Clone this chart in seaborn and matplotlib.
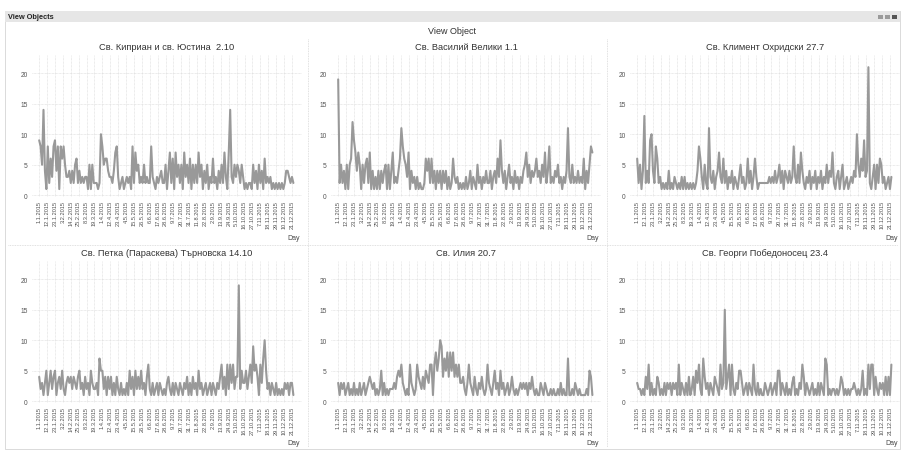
import numpy as np
import pandas as pd
import matplotlib
matplotlib.use("Agg")
import matplotlib.pyplot as plt
from matplotlib.patches import Rectangle
from matplotlib.lines import Line2D
import seaborn as sns

# ---------------- data ----------------
tick_labels = ["1.1.2015", "12.1.2015", "23.1.2015", "3.2.2015", "14.2.2015", "25.2.2015",
               "8.3.2015", "19.3.2015", "1.4.2015", "12.4.2015", "23.4.2015", "4.5.2015",
               "15.5.2015", "26.5.2015", "6.6.2015", "17.6.2015", "28.6.2015", "9.7.2015",
               "20.7.2015", "31.7.2015", "11.8.2015", "22.8.2015", "2.9.2015", "13.9.2015",
               "24.9.2015", "5.10.2015", "16.10.2015", "27.10.2015", "7.11.2015", "18.11.2015",
               "29.11.2015", "10.12.2015", "21.12.2015"]

titles = ["Св. Киприан и св. Юстина  2.10", "Св. Василий Велики 1.1", "Св. Климент Охридски 27.7",
          "Св. Петка (Параскева) Търновска 14.10", "Св. Илия 20.7", "Св. Георги Победоносец 23.4"]

kiprian = [9, 8, 5, 14, 4, 1, 8, 2, 6, 3, 8, 9, 4, 8, 1, 8, 6, 8, 5, 3, 3, 4,
           2, 4, 2, 5, 6, 2, 4, 2, 3, 2, 3, 3, 1, 5, 1, 5, 2, 2, 2, 1, 2, 10,
           8, 5, 6, 6, 4, 3, 3, 2, 4, 7, 8, 3, 1, 2, 3, 1, 2, 3, 2, 3, 1, 8,
           2, 7, 4, 5, 2, 3, 2, 5, 2, 3, 2, 2, 8, 3, 2, 1, 3, 2, 3, 4, 2, 2,
           5, 1, 4, 7, 2, 6, 1, 7, 3, 5, 2, 5, 1, 7, 3, 5, 2, 6, 1, 5, 2, 5,
           2, 7, 3, 5, 1, 4, 2, 5, 1, 3, 2, 6, 2, 3, 1, 4, 2, 5, 2, 7, 3, 1,
           7, 14, 3, 2, 5, 3, 5, 4, 2, 5, 3, 1, 2, 1, 2, 2, 1, 5, 2, 4, 1, 5,
           2, 4, 1, 6, 2, 3, 2, 3, 1, 2, 1, 2, 1, 2, 1, 2, 1, 2, 4, 4, 3, 2,
           3, 2]

vasiliy = [19, 2, 5, 2, 4, 1, 5, 1, 5, 6, 12, 9, 7, 4, 7, 5, 1, 5, 2, 5, 6, 2,
           7, 1, 4, 1, 3, 1, 4, 1, 4, 2, 4, 5, 1, 5, 1, 4, 7, 2, 3, 2, 4, 6,
           11, 8, 6, 5, 3, 7, 1, 4, 2, 3, 1, 3, 1, 2, 1, 1, 2, 6, 4, 6, 2, 6,
           2, 4, 1, 4, 2, 4, 1, 4, 2, 4, 1, 3, 1, 2, 6, 3, 2, 3, 1, 2, 1, 2,
           1, 3, 1, 2, 4, 1, 3, 2, 1, 5, 2, 3, 1, 3, 2, 4, 2, 2, 4, 1, 3, 4,
           2, 6, 3, 9, 4, 2, 4, 1, 3, 5, 2, 3, 1, 4, 2, 3, 1, 3, 2, 4, 5, 7,
           3, 5, 2, 4, 3, 4, 6, 3, 4, 2, 5, 3, 7, 2, 4, 8, 2, 3, 2, 4, 3, 5,
           2, 3, 1, 3, 2, 4, 11, 3, 2, 5, 2, 3, 2, 4, 2, 3, 2, 6, 1, 4, 2, 5,
           8, 7]

kliment = [6, 2, 5, 1, 4, 13, 2, 4, 2, 9, 10, 4, 2, 8, 6, 2, 3, 1, 2, 1, 2, 1,
           4, 1, 2, 1, 3, 2, 1, 2, 1, 3, 1, 3, 1, 2, 1, 2, 1, 2, 1, 2, 4, 8,
           6, 3, 1, 5, 2, 1, 11, 3, 2, 4, 1, 3, 4, 7, 3, 2, 6, 2, 4, 1, 3, 2,
           4, 1, 3, 2, 1, 3, 5, 2, 3, 1, 2, 6, 2, 4, 1, 3, 6, 3, 1, 2, 2, 2,
           2, 2, 2, 2, 3, 2, 3, 2, 4, 2, 3, 5, 2, 4, 1, 4, 3, 2, 4, 2, 3, 8,
           3, 2, 5, 2, 7, 4, 2, 1, 3, 2, 4, 1, 3, 2, 4, 1, 3, 2, 4, 1, 3, 2,
           5, 2, 4, 3, 7, 2, 1, 3, 4, 1, 3, 5, 1, 2, 3, 1, 2, 3, 2, 4, 3, 10,
           5, 3, 6, 4, 9, 3, 4, 21, 2, 1, 3, 5, 1, 5, 2, 6, 5, 2, 3, 1, 2, 3,
           1, 3]

petka = [4, 2, 3, 1, 3, 5, 1, 3, 5, 2, 4, 5, 1, 3, 4, 2, 5, 2, 1, 3, 4, 3,
         4, 2, 4, 3, 2, 4, 5, 2, 3, 1, 4, 2, 3, 1, 5, 3, 2, 2, 3, 1, 7, 5,
         5, 2, 4, 1, 4, 2, 4, 1, 3, 1, 4, 2, 1, 3, 1, 2, 1, 3, 1, 5, 2, 4,
         1, 5, 2, 4, 2, 5, 2, 3, 1, 4, 6, 2, 1, 3, 1, 2, 3, 1, 3, 2, 1, 2,
         1, 3, 4, 2, 1, 3, 1, 3, 2, 1, 3, 2, 1, 3, 2, 4, 1, 3, 1, 4, 2, 3,
         1, 5, 2, 3, 1, 2, 3, 1, 2, 3, 1, 3, 2, 1, 3, 2, 4, 6, 2, 4, 1, 6,
         2, 6, 3, 6, 2, 4, 4, 19, 2, 5, 3, 3, 5, 2, 4, 6, 3, 9, 5, 6, 4, 1,
         6, 3, 7, 10, 5, 2, 3, 1, 3, 2, 1, 3, 1, 2, 1, 2, 1, 3, 2, 3, 1, 3,
         3, 1]

iliya = [3, 1, 3, 2, 3, 1, 2, 3, 1, 2, 1, 3, 1, 2, 1, 3, 1, 2, 3, 1, 2, 3,
         4, 3, 2, 3, 1, 2, 1, 2, 5, 1, 3, 1, 2, 1, 2, 2, 2, 3, 2, 4, 5, 4,
         6, 3, 2, 1, 2, 1, 6, 3, 2, 1, 2, 6, 4, 3, 2, 4, 2, 5, 4, 3, 6, 6,
         1, 6, 8, 5, 7, 10, 9, 4, 7, 5, 8, 4, 8, 5, 8, 4, 6, 4, 6, 3, 3, 4,
         2, 1, 3, 6, 3, 2, 1, 4, 2, 1, 3, 2, 4, 2, 1, 2, 6, 3, 2, 1, 3, 5,
         2, 3, 1, 5, 2, 3, 1, 2, 3, 1, 2, 4, 2, 1, 2, 1, 2, 3, 2, 3, 2, 3,
         1, 3, 2, 4, 2, 1, 2, 1, 1, 3, 2, 1, 3, 2, 1, 1, 2, 1, 2, 1, 1, 2,
         1, 3, 1, 2, 1, 1, 7, 1, 1, 2, 1, 3, 2, 1, 2, 1, 1, 1, 1, 2, 1, 5,
         4, 1]

georgi = [3, 2, 2, 1, 2, 1, 4, 2, 6, 1, 3, 1, 2, 1, 4, 3, 1, 2, 1, 3, 1, 3,
          2, 3, 1, 3, 2, 3, 1, 6, 1, 3, 2, 1, 3, 1, 4, 1, 2, 4, 1, 5, 3, 6,
          2, 1, 7, 4, 2, 3, 1, 3, 2, 1, 4, 3, 2, 1, 6, 2, 3, 15, 2, 4, 6, 1,
          6, 2, 1, 3, 2, 5, 5, 3, 1, 2, 3, 1, 3, 2, 1, 6, 2, 1, 3, 1, 2, 1,
          1, 3, 2, 1, 2, 3, 1, 2, 3, 1, 5, 5, 1, 3, 2, 1, 3, 1, 2, 1, 3, 4,
          1, 2, 1, 3, 2, 6, 4, 1, 3, 2, 1, 2, 3, 1, 2, 1, 3, 1, 3, 2, 1, 7,
          6, 1, 2, 1, 2, 2, 1, 2, 1, 2, 4, 3, 1, 2, 1, 2, 1, 2, 2, 3, 2, 1,
          2, 1, 2, 5, 1, 2, 1, 6, 2, 6, 6, 1, 4, 2, 1, 3, 2, 3, 1, 4, 1, 4,
          1, 6]

series = [kiprian, vasiliy, kliment, petka, iliya, georgi]

# ---------------- figure ----------------
sns.set_style("white")
plt.rcParams["font.family"] = ["Liberation Sans", "DejaVu Sans"]

W, H = 904, 452
fig = plt.figure(figsize=(W / 100, H / 100), dpi=100)
fig.patch.set_facecolor("white")


def fx(px):
    return px / W


def fy(py):
    return 1 - py / H


# outer frame + header band
fig.patches.append(Rectangle((fx(5), fy(450)), fx(895), 438 / H, transform=fig.transFigure,
                             facecolor="none", edgecolor="#d4d4d4", linewidth=0.6))
fig.patches.append(Rectangle((fx(5), fy(23)), fx(895), 11 / H, transform=fig.transFigure,
                             facecolor="#e6e6e6", edgecolor="none"))
fig.text(fx(8), fy(17.5), "View Objects", fontsize=5.3, fontweight="bold", color="#222222",
         va="center", ha="left")
for i, xx in enumerate([878, 885, 892]):
    fig.patches.append(Rectangle((fx(xx), fy(20)), fx(5), 4 / H, transform=fig.transFigure,
                                 facecolor="#9a9a9a" if i < 2 else "#555555", edgecolor="none"))
fig.text(fx(452), fy(32), "View Object", fontsize=6.5, color="#333333", ha="center", va="center")

# separators
for xs in [308, 607]:
    fig.lines.append(Line2D([fx(xs), fx(xs)], [fy(40), fy(448)], transform=fig.transFigure,
                            color="#d6d6d6", linewidth=0.6, linestyle=(0, (1, 1))))
fig.lines.append(Line2D([fx(8), fx(898)], [fy(246), fy(246)], transform=fig.transFigure,
                        color="#d6d6d6", linewidth=0.6, linestyle=(0, (1, 1))))

col_left = [32, 331, 630]
row_top = [56, 262]
ax_w, ax_h = 270, 142
tick_pos = [11 * i for i in range(len(tick_labels))]

for k, (vals, title) in enumerate(zip(series, titles)):
    r, c = divmod(k, 3)
    left, top = col_left[c], row_top[r]
    ax = fig.add_axes([fx(left), fy(top + ax_h), ax_w / W, ax_h / H])
    df = pd.DataFrame({"idx": np.arange(len(vals)) * 2, "views": vals})
    sns.lineplot(data=df, x="idx", y="views", ax=ax, color="#999999", linewidth=1.5)
    ax.set_xlim(-10, 366)
    ax.set_ylim(-0.3, 23)
    ax.set_yticks([0, 5, 10, 15, 20])
    ax.set_xticks(tick_pos)
    ax.set_xticklabels(tick_labels, rotation=90, fontsize=4.1, color="#505050")
    ax.tick_params(axis="y", labelsize=4.8, labelcolor="#555555", length=0, pad=3)
    ax.tick_params(axis="x", length=0, pad=2)
    ax.grid(True, axis="both", color="#d8d8d8", linewidth=0.5, linestyle=(0, (1, 1)))
    ax.set_axisbelow(True)
    for s in ax.spines.values():
        s.set_visible(False)
    ax.set_xlabel("")
    ax.set_ylabel("")
    ax.set_title(title, fontsize=6.7, color="#333333", pad=4)
    fig.text(fx(left + 268), fy(top + 182), "Day", fontsize=5, color="#444444",
             ha="right", va="center")

fig.savefig("out.png", dpi=100, facecolor="white")
